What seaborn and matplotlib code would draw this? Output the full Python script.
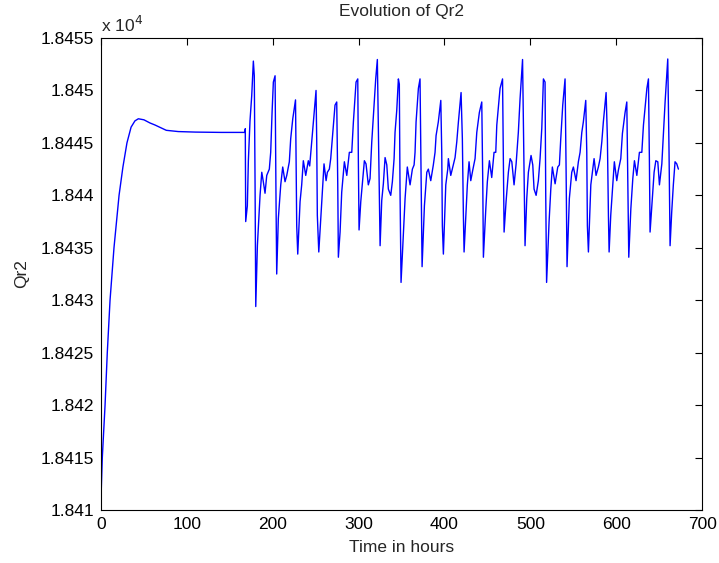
import matplotlib
matplotlib.use("Agg")
import matplotlib.pyplot as plt
import matplotlib.ticker as mticker
import seaborn as sns
import pandas as pd

# ---- data (hours, Qr2) ----
warmup_hours = [0, 1.5, 4.7, 7.3, 10.5, 15.1, 21, 25.5, 30.2, 35, 39.5, 43.5, 50, 57, 63, 76, 90, 110, 140, 167.7, 168.0]
warmup_values = [18411.2, 18415, 18420, 18425, 18430, 18435, 18440, 18442.7, 18445, 18446.5, 18447.1, 18447.3,
                 18447.2, 18446.9, 18446.7, 18446.2, 18446.08, 18446.03, 18446.0, 18446.0, 18446.35]

cycle_hours = [
    168.5, 170.4, 171.6, 173.5, 175.5, 177.4, 178.5, 179.4, 180.2, 182.1, 185.2, 187.2, 189.0, 191.0, 193.0, 196.0,
    197.6, 199.2, 200.7, 202.7, 203.8, 204.6, 206.5, 209.3, 211.6, 214.3, 216.3, 219.3, 220.9, 223.3,
    226.5, 227.9, 229.1, 231.8, 233.7, 235.6, 238.4, 241.4, 243.0, 245.4, 247.3,
    250.4, 251.2, 251.9, 253.6, 255.9, 258.2, 259.7, 262.1, 263.6, 265.9, 267.5, 269.9, 272.5,
    274.5, 275.7, 276.4, 278.4, 280.3, 283.4, 286.2, 289.2, 292.0, 293.9, 297.0,
    299.0, 299.7, 300.5, 302.5, 304.8, 306.7, 308.6, 311.3, 313.3, 315.3, 317.2, 319.9,
    321.8, 323.4, 325.0, 326.9, 328.8, 330.8, 332.8, 334.6, 337.4, 339.3, 341.3, 342.4, 344.4,
    346.3, 347.4, 348.2, 349.4, 352.1, 354.1, 356.7, 359.9, 362.6, 364.6, 365.7, 366.9, 369.6,
    371.5, 372.7, 373.9, 376.6, 379.4, 381.2, 384.0, 387.0, 389.0, 390.2, 392.8,
    395.7, 396.8, 397.5, 398.7, 401.5, 403.8, 404.5, 407.3, 409.6, 412.3, 414.3, 416.2,
    419.3, 420.8, 422.0, 422.8, 425.1, 426.6, 428.6, 430.6, 432.9, 435.6, 437.6, 440.6,
    443.4, 444.6, 445.3, 448.1, 449.9, 452.3, 455.0, 457.7, 459.7, 460.9, 464.7,
    467.6, 468.6, 469.4, 471.7, 474.4, 476.4, 478.4, 481.0, 483.4, 486.0, 488.0,
    490.9, 492.3, 493.8, 495.8, 497.7, 500.8, 502.8, 504.3, 506.7, 509.3, 511.3, 513.3,
    515.2, 517.1, 517.9, 518.9, 521.8, 523.8, 525.6, 528.8, 531.9, 533.8, 535.4, 537.7,
    540.4, 541.6, 542.7, 545.4, 548.2, 550.1, 553.2, 555.9, 557.9, 559.9, 561.7,
    564.5, 565.7, 566.4, 567.6, 570.4, 572.7, 574.2, 576.5, 579.2, 581.2, 583.2, 585.0,
    588.2, 589.7, 590.9, 591.7, 593.6, 596.0, 597.8, 600.6, 602.5, 605.3, 607.2, 610.3,
    612.3, 613.5, 614.6, 617.0, 619.3, 621.2, 624.0, 627.0, 629.8, 631.7, 635.7,
    637.5, 638.6, 639.4, 641.8, 644.1, 646.1, 648.4, 650.3, 653.1, 655.0, 656.9,
    660.0, 661.5, 662.7, 664.6, 666.5, 668.5, 670.5, 672.4,
]
cycle_values = [
    18437.5, 18439.0, 18443.3, 18447.1, 18449.5, 18452.8, 18451.4, 18441.0, 18429.4, 18435.2, 18440.0, 18442.2,
    18441.3, 18440.2, 18441.9, 18442.5, 18444.1, 18447.9, 18450.8, 18451.4, 18439.5, 18432.5, 18437.8, 18441.0,
    18442.7, 18441.3, 18441.9, 18443.2, 18445.4, 18447.3,
    18449.1, 18437.1, 18434.4, 18439.4, 18441.0, 18443.3, 18441.9, 18443.3, 18442.8, 18445.1, 18447.0,
    18450.0, 18445.2, 18438.1, 18434.6, 18437.8, 18441.0, 18443.0, 18441.4, 18442.2, 18442.5, 18443.5, 18446.0,
    18448.6,
    18448.9, 18441.0, 18434.1, 18436.5, 18440.3, 18443.2, 18441.9, 18444.1, 18444.1, 18447.0, 18450.8,
    18451.1, 18443.2, 18436.7, 18439.4, 18441.6, 18443.3, 18443.0, 18441.0, 18441.6, 18445.1, 18447.6, 18451.1,
    18452.95, 18444.1, 18435.2, 18439.5, 18441.1, 18443.6, 18442.9, 18440.6, 18440.0, 18441.3, 18443.5, 18446.0,
    18448.1,
    18451.1, 18450.6, 18440.6, 18431.7, 18436.2, 18439.7, 18442.7, 18441.0, 18442.5, 18442.9, 18444.1, 18447.0,
    18450.2,
    18451.1, 18442.4, 18433.2, 18439.0, 18442.2, 18442.5, 18441.4, 18442.9, 18444.1, 18445.7, 18447.0,
    18449.05, 18444.1, 18437.1, 18434.4, 18441.0, 18442.5, 18443.5, 18441.9, 18442.7, 18443.6, 18445.1, 18447.0,
    18449.8, 18445.4, 18438.1, 18434.6, 18438.4, 18441.0, 18443.2, 18441.4, 18442.4, 18443.5, 18446.0, 18447.9,
    18448.9, 18441.0, 18434.1, 18438.7, 18441.3, 18443.3, 18441.7, 18444.1, 18444.1, 18446.7, 18450.2,
    18451.1, 18443.5, 18436.5, 18439.4, 18442.2, 18443.5, 18443.2, 18441.0, 18443.0, 18446.0, 18449.2,
    18452.95, 18444.1, 18435.2, 18439.7, 18442.2, 18443.8, 18442.9, 18440.6, 18440.0, 18441.4, 18443.5, 18446.4,
    18451.1, 18450.8, 18440.0, 18431.7, 18437.5, 18440.6, 18442.7, 18441.1, 18442.7, 18442.9, 18445.4, 18448.6,
    18451.1, 18442.5, 18433.2, 18439.7, 18442.2, 18442.7, 18441.4, 18443.2, 18444.1, 18446.0, 18447.0,
    18449.05, 18444.1, 18437.1, 18434.6, 18441.0, 18442.5, 18443.5, 18441.9, 18442.7, 18443.5, 18445.1, 18447.0,
    18449.8, 18445.4, 18438.1, 18434.6, 18438.1, 18441.0, 18443.2, 18441.4, 18442.4, 18443.5, 18445.9, 18447.9,
    18448.9, 18441.0, 18434.1, 18438.7, 18441.6, 18443.3, 18441.9, 18444.1, 18444.1, 18446.7, 18450.2,
    18451.1, 18443.5, 18436.5, 18439.4, 18442.2, 18443.3, 18443.2, 18441.0, 18443.0, 18446.0, 18448.9,
    18453.0, 18444.1, 18435.2, 18438.4, 18441.0, 18443.2, 18443.0, 18442.5,
]

x_ticks = [0, 100, 200, 300, 400, 500, 600, 700]
y_ticks = [18410, 18415, 18420, 18425, 18430, 18435, 18440, 18445, 18450, 18455]

df = pd.DataFrame({
    "hours": warmup_hours + cycle_hours,
    "Qr2": warmup_values + cycle_values,
})

sns.set_theme(style="white")
plt.rcParams["font.family"] = ["Liberation Sans", "DejaVu Sans"]

fig = plt.figure(figsize=(7.19, 5.63), dpi=100)
ax = fig.add_axes([0.1405, 0.0941, 0.836, 0.8384])

sns.lineplot(data=df, x="hours", y="Qr2", ax=ax, color="#0000ff", linewidth=1.0,
             estimator=None, sort=False)

ax.set_xlim(0, 700)
ax.set_ylim(18410, 18455)
ax.set_xticks(x_ticks)
ax.set_yticks(y_ticks)
ax.yaxis.set_major_formatter(mticker.FuncFormatter(lambda v, p: f"{v/1e4:g}"))

ax.tick_params(direction="in", length=5, width=0.8, top=True, right=True,
               labelsize=12.5, colors="black", pad=5)
for s in ax.spines.values():
    s.set_color("black")
    s.set_linewidth(0.8)

ax.set_xlabel("Time in hours", fontsize=12.5, labelpad=6)
ax.set_ylabel("Qr2", fontsize=12.5, labelpad=8)
ax.set_title("Evolution of Qr2", fontsize=12.5, pad=16)
ax.text(0.0, 1.006, r"x 10$^{4}$", transform=ax.transAxes, fontsize=12.5,
        ha="left", va="bottom")

fig.savefig("out.png", dpi=100, facecolor="white")
